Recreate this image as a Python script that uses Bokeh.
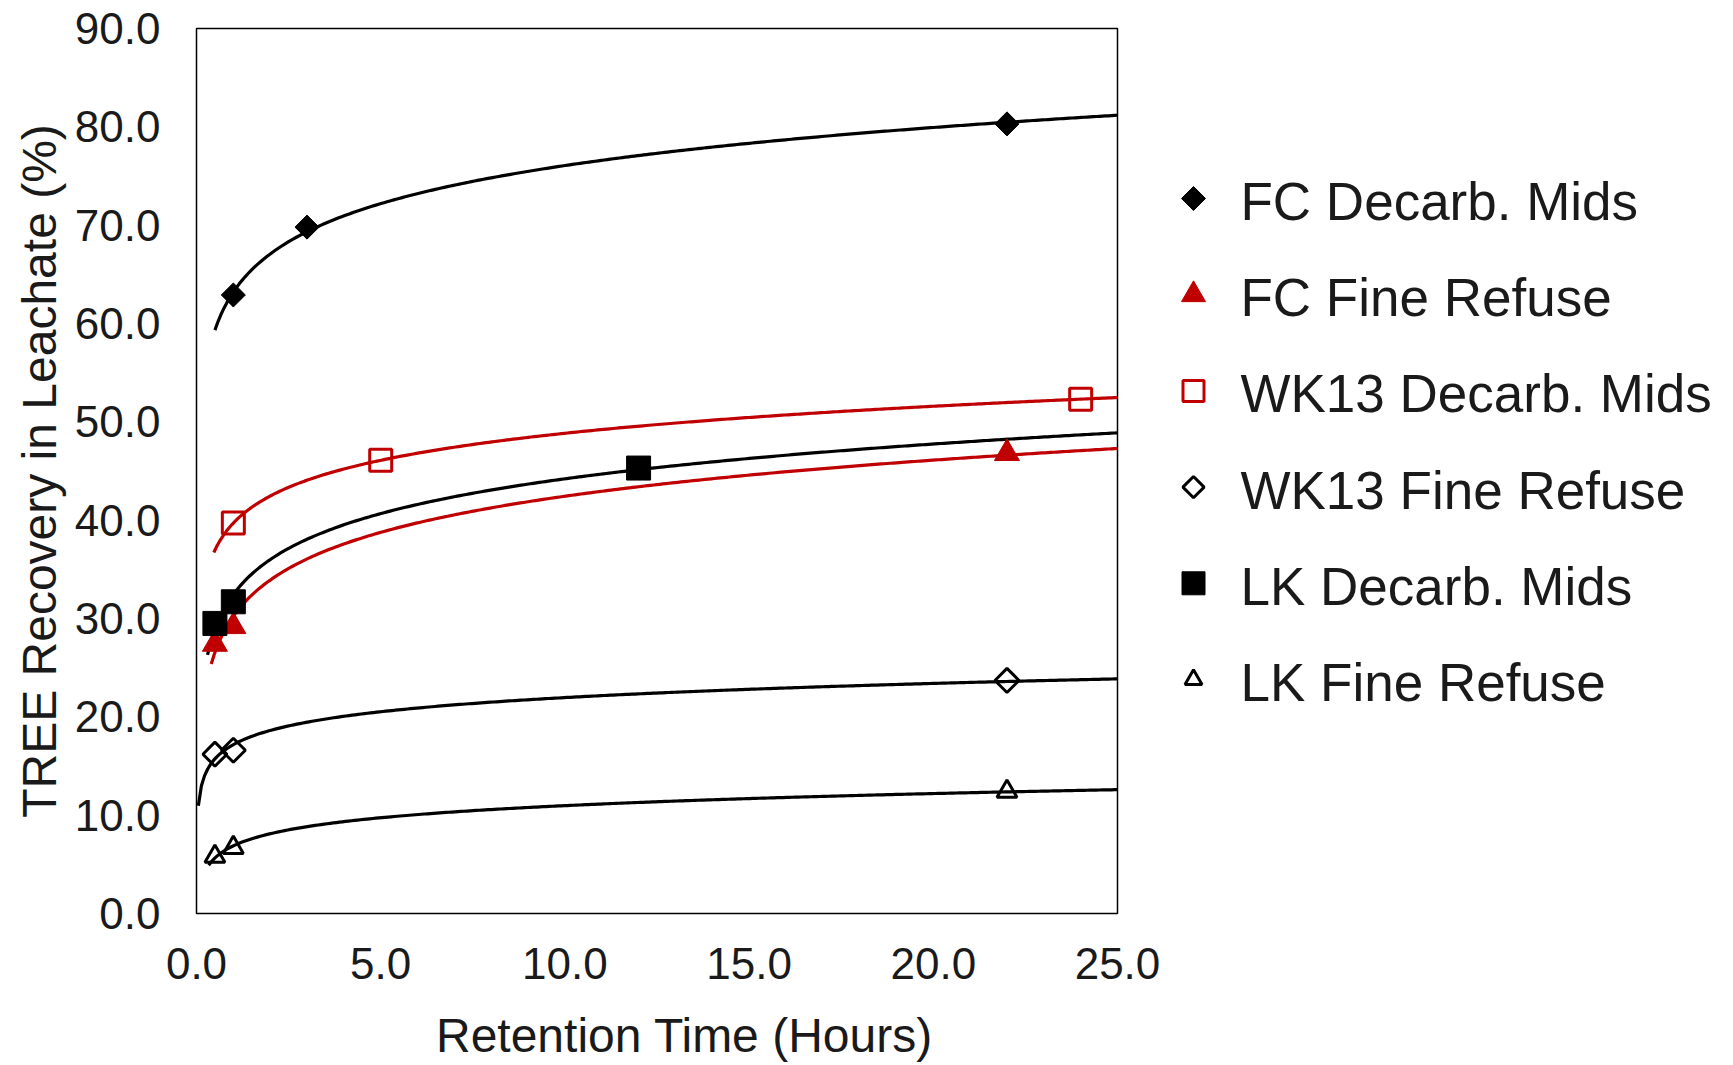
import numpy as np
from bokeh.plotting import figure
from bokeh.layouts import row, column
from bokeh.models import Range1d, FixedTicker, PrintfTickFormatter
from bokeh.core.properties import value
from bokeh.embed import file_html
from bokeh.resources import INLINE

# ---- data ----
series_names = ["FC Decarb. Mids", "FC Fine Refuse", "WK13 Decarb. Mids",
                "WK13 Fine Refuse", "LK Decarb. Mids", "LK Fine Refuse"]
fc_decarb_x = [1.0, 3.0, 22.0]
fc_decarb_y = [62.9, 69.8, 80.3]
fc_fine_x = [0.5, 1.0, 22.0]
fc_fine_y = [27.4, 29.2, 46.8]
wk13_decarb_x = [1.0, 5.0, 24.0]
wk13_decarb_y = [39.7, 46.1, 52.3]
wk13_fine_x = [0.5, 1.0, 22.0]
wk13_fine_y = [16.2, 16.6, 23.7]
lk_decarb_x = [0.5, 1.0, 12.0]
lk_decarb_y = [29.5, 31.7, 45.3]
lk_fine_x = [0.5, 1.0, 22.0]
lk_fine_y = [5.8, 6.7, 12.4]
# logarithmic trendline x-extents (start, end)
trend_start = [0.5, 0.4, 0.47, 0.05, 0.3, 0.33]
trend_end = [25.0, 25.0, 25.0, 25.0, 25.0, 25.0]

x_ticks = [0, 5, 10, 15, 20, 25]
y_ticks = [0, 10, 20, 30, 40, 50, 60, 70, 80, 90]

RED = "#C00000"
BLACK = "#000000"
TXT = "#1a1a1a"
FONT = "Liberation Sans"

PAGE_W, PAGE_H = 1733, 1065
MAIN_W = 1162
TOP_H = 1000                      # height of the plot row; x-axis title strip below it
FRAME_TOP, FRAME_BOTTOM = 28, 913

p = figure(width=MAIN_W, height=TOP_H, output_backend="svg", toolbar_location=None,
           x_range=Range1d(0, 25), y_range=Range1d(0, 90),
           min_border_left=196, min_border_right=45, min_border_top=FRAME_TOP,
           min_border_bottom=TOP_H - FRAME_BOTTOM)
p.background_fill_color = "white"
p.border_fill_color = "white"
p.outline_line_color = "black"
p.outline_line_width = 1.5
p.xgrid.grid_line_color = None
p.ygrid.grid_line_color = None

for ax in (p.xaxis[0], p.yaxis[0]):
    ax.axis_line_color = None
    ax.major_tick_line_color = None
    ax.minor_tick_line_color = None
    ax.major_tick_out = 0
    ax.major_tick_in = 0
    ax.minor_tick_out = 0
    ax.minor_tick_in = 0
    ax.major_label_text_font = FONT
    ax.major_label_text_font_size = "44px"
    ax.major_label_text_color = TXT
    ax.axis_label_text_font = FONT
    ax.axis_label_text_font_size = "48px"
    ax.axis_label_text_font_style = "normal"
    ax.axis_label_text_color = TXT
    ax.formatter = PrintfTickFormatter(format="%.1f")

p.xaxis[0].ticker = FixedTicker(ticks=x_ticks)
p.yaxis[0].ticker = FixedTicker(ticks=y_ticks)
p.yaxis[0].axis_label = "TREE Recovery in Leachate (%)"
p.xaxis[0].major_label_standoff = 34
p.yaxis[0].major_label_standoff = 36
p.yaxis[0].axis_label_standoff = 6

xs = [fc_decarb_x, fc_fine_x, wk13_decarb_x, wk13_fine_x, lk_decarb_x, lk_fine_x]
ys = [fc_decarb_y, fc_fine_y, wk13_decarb_y, wk13_fine_y, lk_decarb_y, lk_fine_y]
line_colors = [BLACK, RED, RED, BLACK, BLACK, BLACK]

# trendlines (logarithmic least-squares fit, like the spreadsheet's trendline)
for x, y, s, e, c in zip(xs, ys, trend_start, trend_end, line_colors):
    a, b = np.polyfit(np.log(x), y, 1)
    tx = np.linspace(s, e, 300)
    p.line(tx, a * np.log(tx) + b, line_color=c, line_width=3.2)

styles = [
    dict(marker="square", angle=np.pi / 4, size=17, fill_color=BLACK, line_color=BLACK, line_width=1),
    dict(marker="triangle", size=25, fill_color=RED, line_color=RED, line_width=1),
    dict(marker="square", size=22, fill_color=None, line_color=RED, line_width=3),
    dict(marker="square", angle=np.pi / 4, size=17, fill_color=None, line_color=BLACK, line_width=3),
    dict(marker="square", size=24, fill_color=BLACK, line_color=BLACK, line_width=1),
    dict(marker="triangle", size=20, fill_color=None, line_color=BLACK, line_width=3),
]
legend_sizes = [17, 24, 21, 15, 23, 17]

for x, y, st in zip(xs, ys, styles):
    p.scatter(x, y, **st)

# ---- legend panel (separate figure; its frame is aligned with the main frame) ----
leg = figure(width=PAGE_W - MAIN_W, height=TOP_H, output_backend="svg", toolbar_location=None,
             x_range=Range1d(MAIN_W, PAGE_W), y_range=Range1d(FRAME_BOTTOM, FRAME_TOP),
             x_axis_type=None, y_axis_type=None,
             min_border_left=0, min_border_right=0, min_border_top=FRAME_TOP,
             min_border_bottom=TOP_H - FRAME_BOTTOM)
leg.grid.visible = False
leg.outline_line_color = None
leg.background_fill_color = "white"
leg.border_fill_color = "white"

LEG_GLYPH_X = 1193
LEG_TEXT_X = 1240
LEG_Y0, LEG_STEP = 198, 96.2
for i, (name, st, sz) in enumerate(zip(series_names, styles, legend_sizes)):
    yy = LEG_Y0 + i * LEG_STEP
    st2 = dict(st)
    st2["size"] = sz
    leg.scatter([LEG_GLYPH_X], [yy], **st2)
    leg.text([LEG_TEXT_X], [yy + 3], text=[name], text_font=value(FONT), text_font_size="53px",
             text_color=TXT, text_baseline="middle", text_align="left")

# ---- x-axis title strip ----
tfig = figure(width=PAGE_W, height=PAGE_H - TOP_H, output_backend="svg", toolbar_location=None,
              x_range=Range1d(0, PAGE_W), y_range=Range1d(PAGE_H, TOP_H),
              x_axis_type=None, y_axis_type=None,
              min_border_left=0, min_border_right=0, min_border_top=0, min_border_bottom=0)
tfig.grid.visible = False
tfig.outline_line_color = None
tfig.background_fill_color = "white"
tfig.border_fill_color = "white"
tfig.text([684], [1035], text=["Retention Time (Hours)"], text_font=value(FONT),
          text_font_size="48px", text_color=TXT, text_baseline="middle", text_align="center")

layout = column(row(p, leg, spacing=0), tfig, spacing=0)
open("out.html", "w").write(file_html(layout, INLINE))
